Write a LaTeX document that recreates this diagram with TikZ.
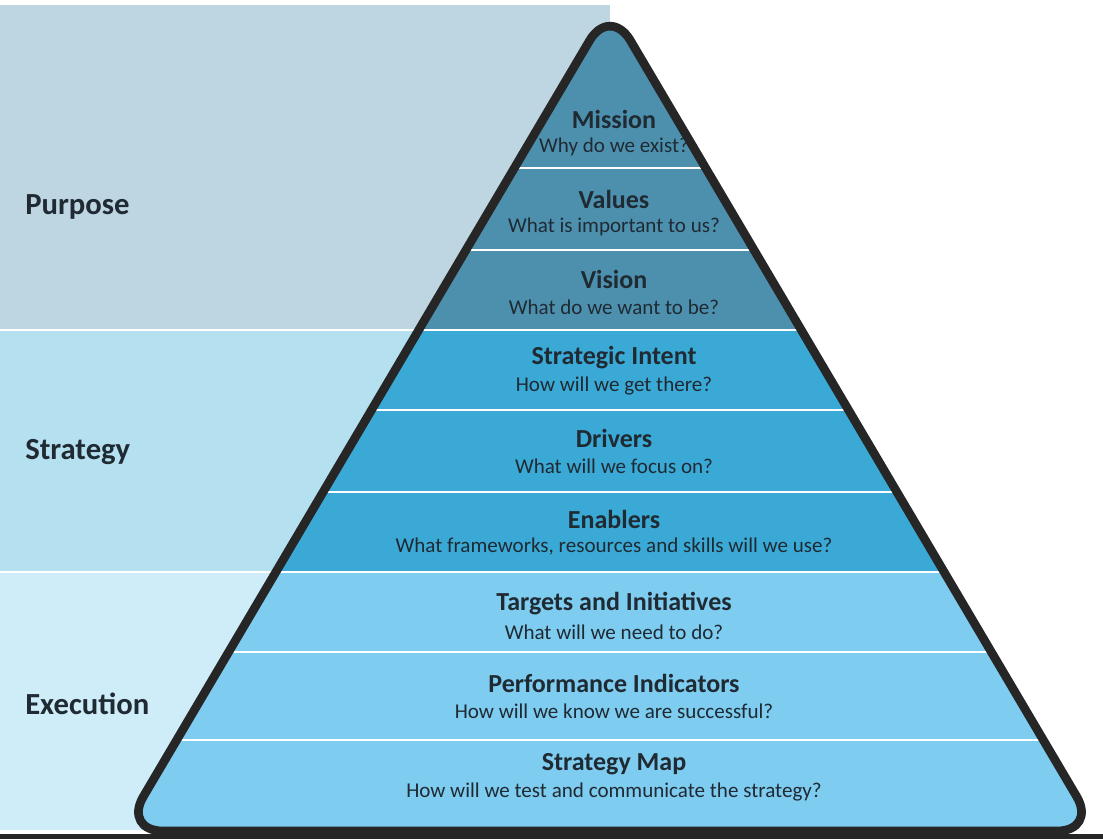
\documentclass[tikz,border=0pt]{standalone}
\usepackage{fontspec}
\setmainfont{Carlito}
\definecolor{purposebg}{HTML}{BDD6E2}
\definecolor{strategybg}{HTML}{B5E0F0}
\definecolor{executionbg}{HTML}{CFECF9}
\definecolor{toptier}{HTML}{4D90AE}
\definecolor{midtier}{HTML}{3BA9D6}
\definecolor{lowtier}{HTML}{7ECCF0}
\definecolor{ink}{HTML}{1F2A33}
\begin{document}
\begin{tikzpicture}[x=0.75pt,y=-0.75pt,
            title/.style={font=\bfseries\fontsize{19.5}{21}\selectfont,text=ink,inner sep=0},
            question/.style={font=\fontsize{15.8}{17}\selectfont,text=ink,inner sep=0},
            side/.style={font=\bfseries\fontsize{23}{25}\selectfont,text=ink,anchor=west,inner sep=0},
            sep/.style={white,line width=2.2}
            ]
            \useasboundingbox (0,0) rectangle (1103,839);
            % side bands
            \fill[purposebg] (0,5) rectangle (610,330);
            \fill[strategybg] (0,330) rectangle (610,572);
            \fill[executionbg] (0,572) rectangle (610,830);
            \draw[sep] (0,330) -- (610,330);
            \draw[sep] (0,572) -- (610,572);
            \node[side] (purpose) at (25,207) {Purpose};
            \node[side] (strategy) at (25,452) {Strategy};
            \node[side] (execution) at (25,704) {Execution};
            % pyramid
            \def\pyr{(610,6) -- (1097,831) -- (123,831) -- cycle}
            \begin{scope}
                \clip[rounded corners=30] \pyr;
                \fill[toptier] (0,0) rectangle (1103,330);
                \fill[midtier] (0,330) rectangle (1103,572);
                \fill[lowtier] (0,572) rectangle (1103,839);
                \foreach \y in {168,250,330,410,492,572,652,740}
                    \draw[sep] (0,\y) -- (1103,\y);
            \end{scope}
            \draw[line width=6.5,black!85,rounded corners=30,line join=round] \pyr;
            \fill[black!85] (0,834) rectangle (1103,839);
            % tier texts
            \foreach \n/\t/\q/\y in {mission/Mission/Why do we exist?/119,
                values/Values/What is important to us?/199,
                vision/Vision/What do we want to be?/279,
                intent/Strategic Intent/How will we get there?/358,
                drivers/Drivers/What will we focus on?/438,
                enablers/Enablers/{What frameworks, resources and skills will we use?}/519,
                targets/Targets and Initiatives/What will we need to do?/604,
                indicators/Performance Indicators/How will we know we are successful?/683,
                map/Strategy Map/How will we test and communicate the strategy?/764} {
                \node[title] (\n) at (614,\y) {\t};
                \node[question] (\n q) at (614,\y+28) {\q};
            }
        \end{tikzpicture}
\end{document}
